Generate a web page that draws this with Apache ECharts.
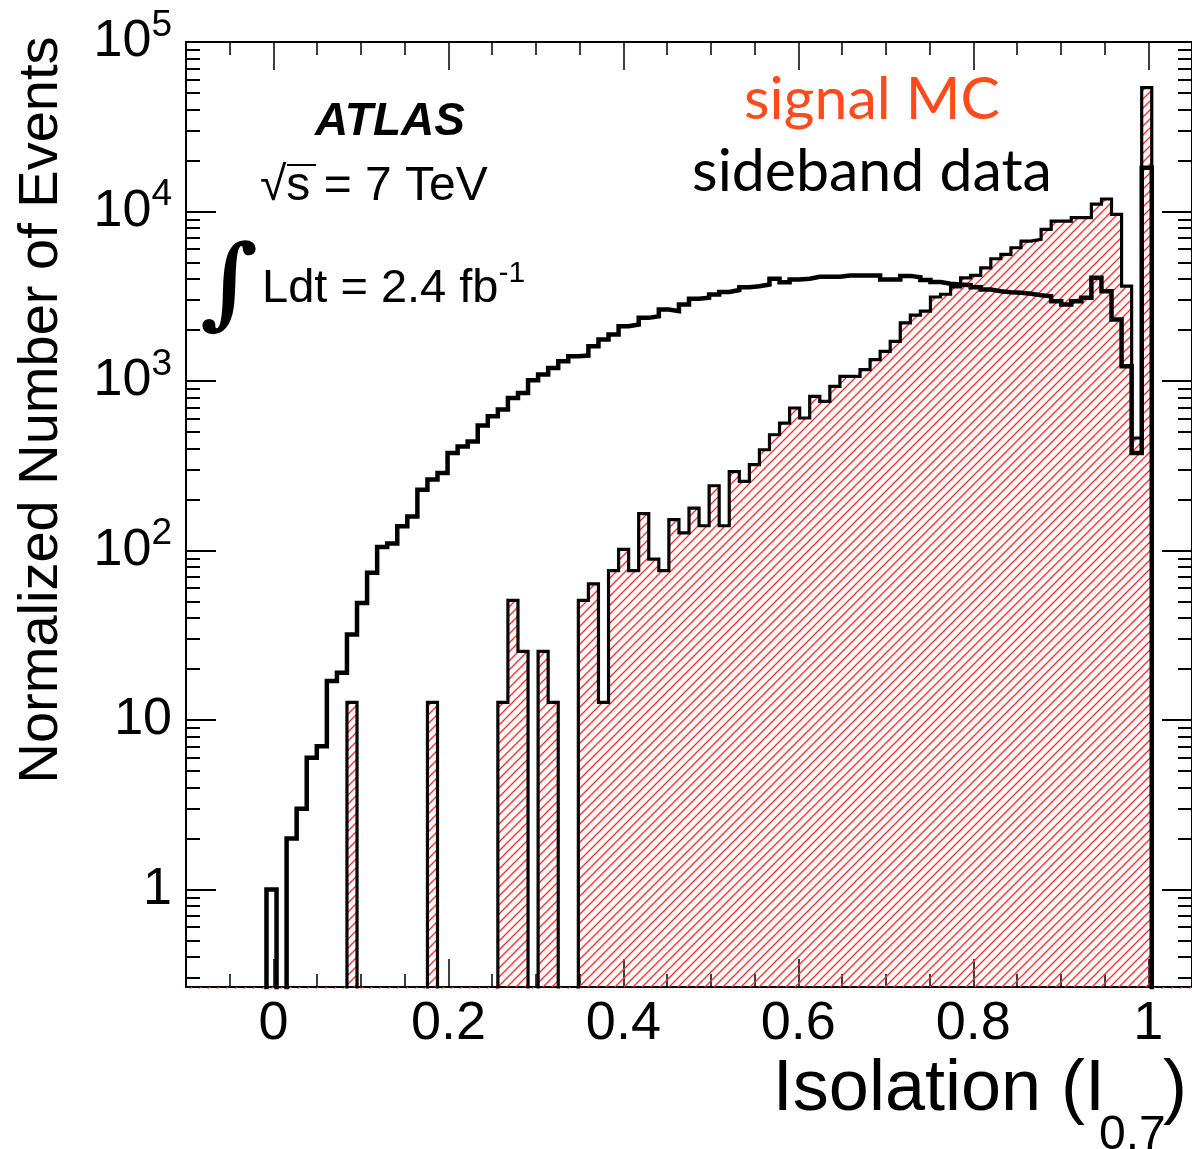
<!DOCTYPE html>
<html><head><meta charset="utf-8">
<script src="https://cdn.jsdelivr.net/npm/echarts@6/dist/echarts.min.js"></script>
<style>html,body{margin:0;padding:0;background:#fff}#c{width:1192px;height:1149px}</style>
</head><body><div id="c"></div>
<script>
// Histogram binning: 100 bins on [-0.1, 1.05]
const binLow = -0.1;
const binWidth = 0.0115;
// sideband data, per bin
const sidebandData = [
  0,0,0,0,0,0,0,0,1,0,
  2,3,6,7,17,19,32,49,74,105,
  110,139,159,228,262,287,376,411,440,547,
  620,678,795,851,1009,1091,1195,1307,1399,1413,
  1603,1757,1880,2104,2152,2358,2411,2640,2581,2827,
  3054,3100,3240,3350,3440,3580,3625,3710,4010,3830,
  3970,4010,4120,4120,4120,4190,4190,4190,4190,3970,
  3970,4170,4090,3950,3840,3750,3710,3675,3575,3467,
  3388,3341,3314,3268,3208,3165,2957,2827,2957,3100,
  4064,3388,2305,1222,376,18150,0,0,0,0
];
// signal MC, per bin
const signalMC = [
  0,0,0,0,0,0,0,0,0,0,
  0,0,0,0,0,0,12.7,0,0,0,
  0,0,0,0,12.7,0,0,0,0,0,
  0,12.7,50.8,25.4,0,25.4,12.7,0,0,50.8,
  63.5,12.7,76.2,101.6,76.2,165,88.9,76.2,152,127,
  178,140,241,140,292,256,321,393,482,565,
  693,605,812,759,930,1066,1066,1167,1337,1497,
  1715,2203,2450,2583,3130,3250,3590,4064,4194,4654,
  5262,5580,6112,6688,6843,7837,8775,8775,9190,9190,
  11060,11850,9610,3625,461,53860,0,0,0,0
];
const xMajorTicks = [0, 0.2, 0.4, 0.6, 0.8, 1];
const xMinorTicks = [-0.05, 0.05, 0.1, 0.15, 0.25, 0.3, 0.35, 0.45, 0.5, 0.55, 0.65, 0.7, 0.75, 0.85, 0.9, 0.95];
const yMajorTicks = [1, 10, 100, 1000, 10000, 100000];
const yMinorTicks = [0.3,0.4,0.5,0.6,0.7,0.8,0.9, 2,3,4,5,6,7,8,9, 20,30,40,50,60,70,80,90,
  200,300,400,500,600,700,800,900, 2000,3000,4000,5000,6000,7000,8000,9000,
  20000,30000,40000,50000,60000,70000,80000,90000];

const FONT = "'Liberation Sans', Arial, Helvetica, sans-serif";
const FLOOR = 0.01; // empty bins drawn below the axis minimum (clipped)

function stepPoints(vals) {
  const pts = [];
  vals.forEach((v, k) => {
    const x0 = binLow + k * binWidth, x1 = binLow + (k + 1) * binWidth;
    const y = v > 0 ? v : FLOOR;
    pts.push([x0, y], [x1, y]);
  });
  return pts;
}

// hatch pattern
const P = 9;
const pc = document.createElement('canvas');
pc.width = P; pc.height = P;
const g = pc.getContext('2d');
g.strokeStyle = '#ff2a2a'; g.lineWidth = 1.3;
g.beginPath();
g.moveTo(-1, P + 1); g.lineTo(P + 1, -1);
g.moveTo(-1, 1); g.lineTo(1, -1);
g.moveTo(P - 1, P + 1); g.lineTo(P + 1, P - 1);
g.stroke();

const X_MIN = -0.1, X_MAX = 1.05, Y_MIN = Math.pow(10, -0.575), Y_MAX = 100000;

function xAxisDef(pos, ticks, len, labels) {
  return {
    type: 'value', min: X_MIN, max: X_MAX, position: pos,
    axisLine: { show: false, onZero: false }, splitLine: { show: false },
    axisTick: { show: true, inside: true, length: len, customValues: ticks, lineStyle: { color: '#000', width: 1.5 } },
    axisLabel: labels ? { show: true, customValues: ticks, fontSize: 54, fontFamily: FONT, color: '#000', margin: 10,
      formatter: v => String(+v.toFixed(2)) } : { show: false }
  };
}
function yAxisDef(pos, ticks, len, labels) {
  return {
    type: 'log', logBase: 10, min: Y_MIN, max: Y_MAX, position: pos,
    axisLine: { show: false, onZero: false }, splitLine: { show: false }, minorTick: { show: false },
    axisTick: { show: true, inside: true, length: len, customValues: ticks, lineStyle: { color: '#000', width: 2 } },
    axisLabel: labels ? {
      show: true, customValues: ticks, margin: 14, color: '#000',
      formatter: v => {
        const e = Math.round(Math.log10(v));
        if (e === 0) return '{b|1}';
        if (e === 1) return '{b|10}';
        return '{b|10}{s|' + e + '}';
      },
      rich: {
        b: { fontSize: 52, fontFamily: FONT, lineHeight: 70, color: '#000' },
        s: { fontSize: 37, fontFamily: FONT, lineHeight: 38, verticalAlign: 'top', color: '#000' }
      }
    } : { show: false }
  };
}

function txt(x, y, text, size, opts) {
  return { type: 'text', x: x, y: y, rotation: (opts && opts.rotation) || 0,
    style: Object.assign({ text: text, fontSize: size, fontFamily: FONT, fill: '#000',
      align: 'left', verticalAlign: 'middle', textAlign: 'left', textVerticalAlign: 'middle' }, (opts && opts.style) || {}) };
}

const chart = echarts.init(document.getElementById('c'), null, { renderer: 'canvas' });
chart.setOption({
  animation: false,
  backgroundColor: '#fff',
  grid: { left: 186, top: 42, width: 1007, height: 945, show: true, borderColor: '#000', borderWidth: 2, backgroundColor: 'transparent' },
  xAxis: [
    xAxisDef('bottom', xMajorTicks, 28, true),
    xAxisDef('top', xMajorTicks, 28, false),
    xAxisDef('bottom', xMinorTicks, 13, false),
    xAxisDef('top', xMinorTicks, 13, false)
  ],
  yAxis: [
    yAxisDef('left', yMajorTicks, 30, true),
    yAxisDef('right', yMajorTicks, 30, false),
    yAxisDef('left', yMinorTicks, 14, false),
    yAxisDef('right', yMinorTicks, 14, false)
  ],
  series: [
    {
      name: 'signal MC', type: 'line', xAxisIndex: 0, yAxisIndex: 0,
      data: stepPoints(signalMC), showSymbol: false, symbol: 'none', clip: true,
      lineStyle: { color: '#000', width: 3.2, join: 'miter' },
      areaStyle: { origin: 'start', color: { image: pc, repeat: 'repeat' }, opacity: 1 },
      z: 2
    },
    {
      name: 'sideband data', type: 'line', xAxisIndex: 0, yAxisIndex: 0,
      data: stepPoints(sidebandData), showSymbol: false, symbol: 'none', clip: true,
      lineStyle: { color: '#000', width: 4.5, join: 'miter' },
      z: 3
    }
  ],
  graphic: [
    txt(42, 410, 'Normalized Number of Events', 56, { rotation: Math.PI / 2, style: { align: 'center', textAlign: 'center' } }),
    txt(1105, 1090, 'Isolation (I', 72, { style: { align: 'right', textAlign: 'right' } }),
    txt(1099, 1136, '0.7', 48),
    txt(1163, 1090, ')', 72),
    txt(315, 122, 'ATLAS', 46, { style: { fontWeight: 'bold', fontStyle: 'italic' } }),
    txt(260, 187, '\u221As = 7 TeV', 48),
    { type: 'line', shape: { x1: 287, y1: 165, x2: 316, y2: 165 }, style: { stroke: '#000', lineWidth: 2 } },
    txt(200, 290, '\u222B', 100, { style: { fontFamily: "'DejaVu Serif', 'Liberation Serif', serif", fontWeight: 'bold' } }),
    { type: 'text', x: 262, y: 289,
      style: { text: '{m|Ldt = 2.4 fb}{s|-1}', align: 'left', verticalAlign: 'middle', textAlign: 'left', textVerticalAlign: 'middle',
        rich: {
          m: { fontSize: 47, fontFamily: FONT, lineHeight: 60, fill: '#000' },
          s: { fontSize: 30, fontFamily: FONT, lineHeight: 30, verticalAlign: 'top', fill: '#000' }
        } } },
    txt(872, 100, 'signal MC', 59, { style: { fontFamily: "Lato, 'Open Sans', sans-serif", fill: '#ff4a1c', align: 'center', textAlign: 'center' } }),
    txt(872, 172, 'sideband data', 59, { style: { fontFamily: "Lato, 'Open Sans', sans-serif", align: 'center', textAlign: 'center' } })
  ]
});
</script>
</body></html>
